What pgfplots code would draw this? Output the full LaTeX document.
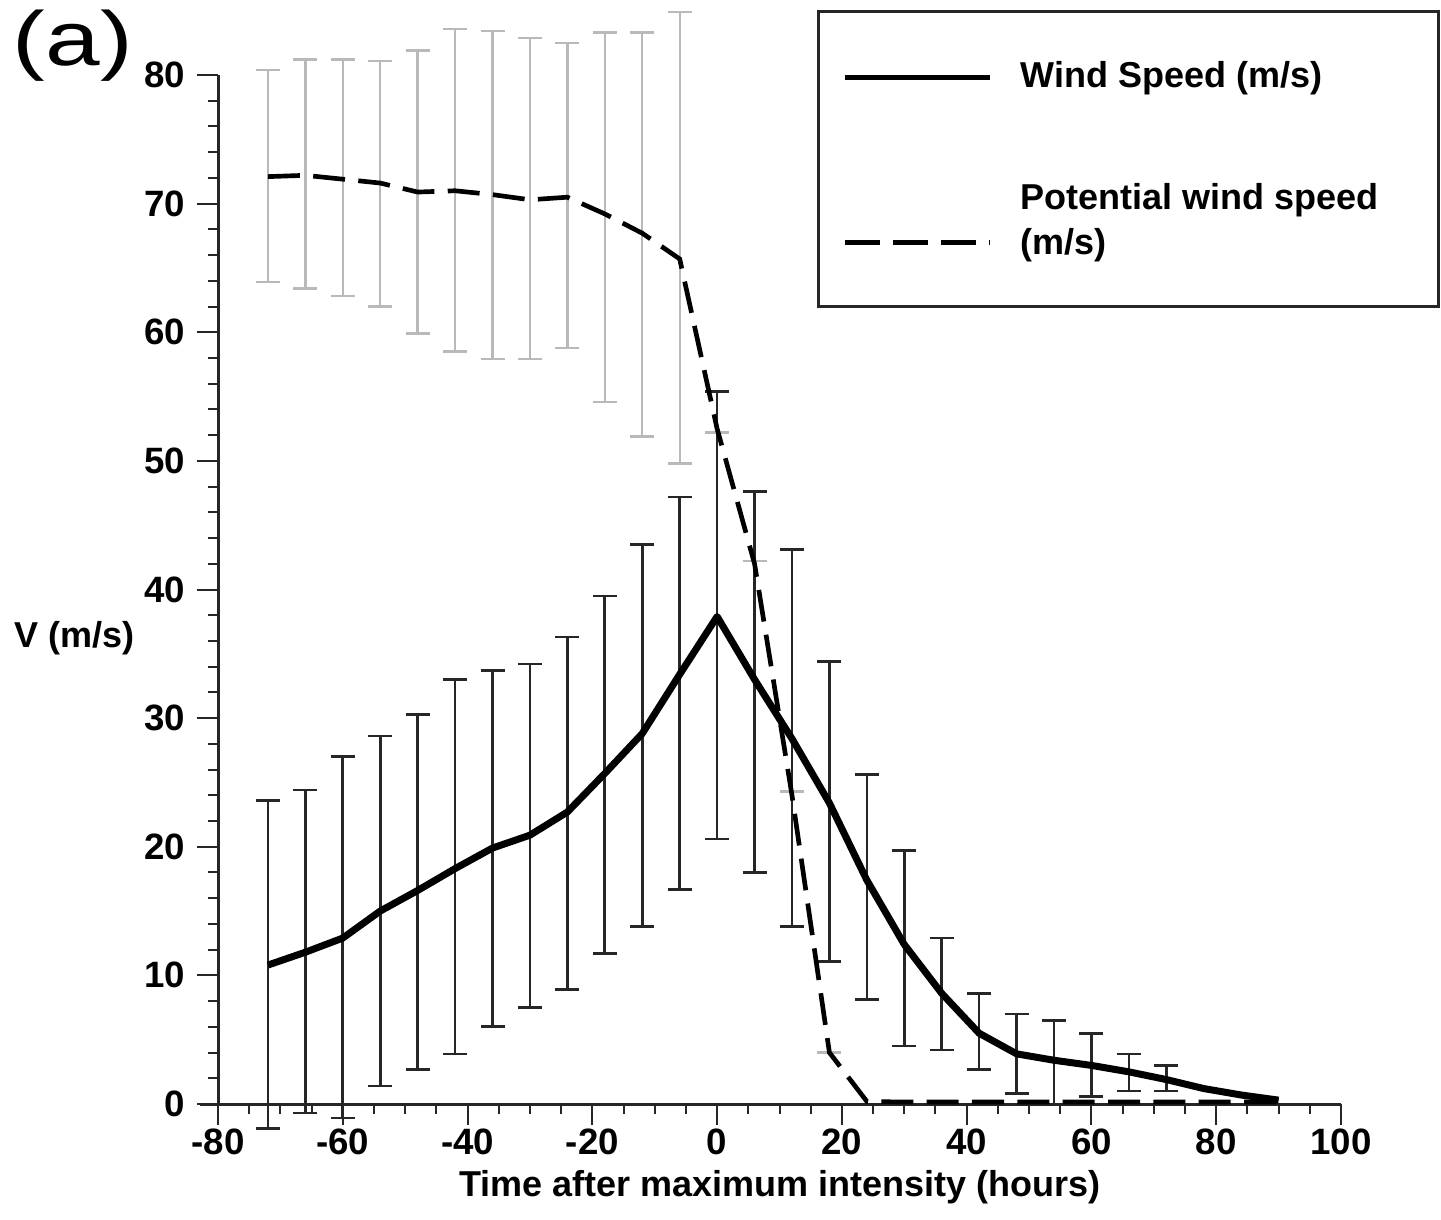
\documentclass[border=0pt]{standalone}
\usepackage{fontspec}
\setmainfont{Liberation Sans}
\usepackage{pgfplots}
\pgfplotsset{compat=1.18}
\usepackage{pgfplotstable}

% Wind speed: mean and error (plus/minus)
\pgfplotstableread{
x y ep em
-72 10.8 12.8 12.7
-66 11.8 12.6 12.5
-60 12.9 14.1 14.0
-54 15.0 13.6 13.6
-48 16.6 13.7 13.9
-42 18.3 14.7 14.4
-36 19.9 13.8 13.9
-30 20.9 13.3 13.4
-24 22.7 13.6 13.8
-18 25.7 13.8 14.0
-12 28.8 14.7 15.0
-6 33.4 13.8 16.7
0 37.9 17.5 17.3
6 33.0 14.6 15.0
12 28.4 14.7 14.6
18 23.4 11.0 12.3
24 17.4 8.2 9.3
30 12.4 7.3 7.9
36 8.6 4.3 4.4
42 5.5 3.1 2.8
48 3.9 3.1 3.1
54 3.4 3.1 3.4
60 3.0 2.5 2.4
66 2.5 1.4 1.5
72 1.9 1.1 0.9
}\windbars

\pgfplotstableread{
x y
-72 10.8
-66 11.8
-60 12.9
-54 15.0
-48 16.6
-42 18.3
-36 19.9
-30 20.9
-24 22.7
-18 25.7
-12 28.8
-6 33.4
0 37.9
6 33.0
12 28.4
18 23.4
24 17.4
30 12.4
36 8.6
42 5.5
48 3.9
54 3.4
60 3.0
66 2.5
72 1.9
78 1.2
84 0.7
90 0.3
}\windline

% Potential wind speed: mean and error (plus/minus)
\pgfplotstableread{
x y ep em
-72 72.1 8.3 8.2
-66 72.2 9.0 8.8
-60 71.9 9.3 9.1
-54 71.6 9.5 9.6
-48 70.9 11.0 11.0
-42 71.0 12.6 12.5
-36 70.7 12.7 12.8
-30 70.3 12.6 12.4
-24 70.5 12.0 11.7
-18 69.2 14.1 14.6
-12 67.7 15.6 15.8
-6 65.7 19.2 15.9
}\potbars

\pgfplotstableread{
x y ep em
0 52.2 0 0
6 42.2 0 0
12 24.3 0 0
18 4.0 0 0
}\potcaps

\pgfplotstableread{
x y
-72 72.1
-66 72.2
-60 71.9
-54 71.6
-48 70.9
-42 71.0
-36 70.7
-30 70.3
-24 70.5
-18 69.2
-12 67.7
-6 65.7
0 52.5
6 42.0
12 24.0
18 4.0
24 0.2
30 0.15
36 0.15
42 0.15
48 0.15
54 0.15
60 0.15
66 0.15
72 0.15
78 0.15
84 0.15
90 0.15
}\potline

\begin{document}
\begin{tikzpicture}
\begin{axis}[
  at={(0,0)}, anchor=south west,
  scale only axis, width=336.9pt, height=308.7pt,
  xmin=-80, xmax=100, ymin=0, ymax=80,
  axis lines=left,
  axis line style={-, line width=0.9pt, black!85},
  clip=false,
  xtick={-80,-60,...,100}, ytick={0,10,...,80},
  minor x tick num=3, minor y tick num=4,
  tick align=outside,
  major tick length=6.3pt, minor tick length=3pt,
  every tick/.style={line width=0.6pt, black!85},
  every tick label/.append style={font=\fontsize{11}{13}\selectfont\bfseries},
  xticklabel style={yshift=2.5pt},
  /pgf/number format/assume math mode=true,
  greybars/.style={draw=none, mark=none, forget plot,
    error bars/.cd, y dir=both, y explicit,
    error bar style={draw=gray!55, line width=0.7pt, solid},
    error mark options={draw=gray!55, line width=0.7pt, mark size=3.6pt, rotate=90, solid}},
  blackbars/.style={draw=none, mark=none, forget plot,
    error bars/.cd, y dir=both, y explicit,
    error bar style={draw=black!85, line width=0.8pt, solid},
    error mark options={draw=black!85, line width=0.8pt, mark size=3.6pt, rotate=90, solid}},
  ]
  % grey error bars of potential wind speed
  \addplot[greybars] table[x=x, y=y, y error plus=ep, y error minus=em]{\potbars};
  \addplot[greybars] table[x=x, y=y, y error plus=ep, y error minus=em]{\potcaps};
  % black error bars of wind speed
  \addplot[blackbars] table[x=x, y=y, y error plus=ep, y error minus=em]{\windbars};
  % potential wind speed line
  \addplot[black, line width=1.4pt, dash pattern=on 9.6pt off 4pt, mark=none]
    table[x=x, y=y]{\potline};
  % wind speed line
  \addplot[black, line width=2.1pt, line join=round, mark=none]
    table[x=x, y=y]{\windline};
\end{axis}
% x axis line extends slightly left of the y axis
\draw[line width=0.9pt, black!85] (-5.4pt,0) -- (0,0);
% labels
\node[anchor=east, inner sep=0pt, font=\fontsize{10.8}{13}\selectfont\bfseries] at (-24.9pt,139.8pt) {V (m/s)};
\node[inner sep=0pt, font=\fontsize{10.8}{13}\selectfont\bfseries] at (168.6pt,-24.9pt) {Time after maximum intensity (hours)};
\node[anchor=west, inner sep=0pt, xscale=1.28, font=\fontsize{23}{23}\selectfont] at (-61.8pt,317.5pt) {(a)};
% legend
\draw[line width=0.9pt, black!85] (180pt,239.1pt) rectangle (366pt,327.6pt);
\draw[line width=1.5pt] (188.1pt,307.8pt) -- (231.6pt,307.8pt);
\node[anchor=west, inner sep=0pt, font=\fontsize{10.8}{13}\selectfont\bfseries] at (240.6pt,307.8pt) {Wind Speed (m/s)};
\draw[line width=1.5pt, dash pattern=on 10.5pt off 3.9pt] (188.1pt,258.3pt) -- (231.6pt,258.3pt);
\node[anchor=west, align=left, inner sep=0pt, font=\fontsize{10.8}{13.5}\selectfont\bfseries] at (240.6pt,264.5pt) {Potential wind speed\\(m/s)};
\pgfresetboundingbox
\path[use as bounding box] (-65.4pt,-34.5pt) rectangle (366.9pt,331.2pt);
\end{tikzpicture}
\end{document}
